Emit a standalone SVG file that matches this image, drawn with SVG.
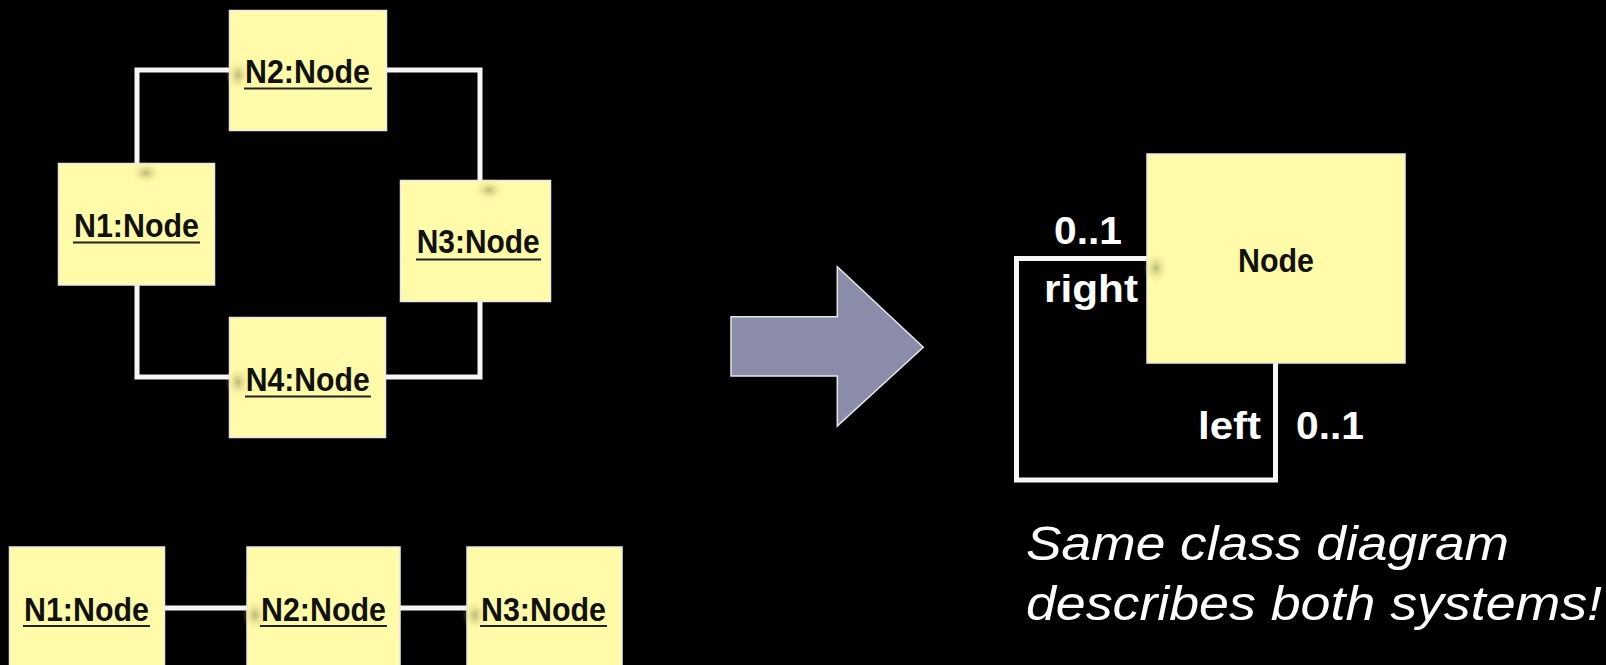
<svg xmlns="http://www.w3.org/2000/svg" width="1606" height="665" viewBox="0 0 1606 665">
  <defs>
    <radialGradient id="glow">
      <stop offset="0" stop-color="#8c8c55" stop-opacity="0.6"/>
      <stop offset="0.5" stop-color="#c8c67e" stop-opacity="0.3"/>
      <stop offset="1" stop-color="#fefaa8" stop-opacity="0"/>
    </radialGradient>
    <style>
      .box { fill: #fffba8; stroke: #e8e8e8; stroke-width: 1.5; }
      .lbl { font-family: "Liberation Sans", Arial, sans-serif; font-weight: bold; font-size: 33px; fill: #111; }
      .ul { stroke: #222; stroke-width: 2; }
      .conn { fill: none; stroke: #f6f6f6; stroke-width: 5; }
      .wl { font-family: "Liberation Sans", Arial, sans-serif; font-weight: bold; font-size: 38px; fill: #ffffff; }
      .note { font-family: "Liberation Sans", Arial, sans-serif; font-style: italic; font-size: 48px; fill: #ffffff; }
      .gl { fill: url(#glow); }
    </style>
  </defs>
  <rect x="0" y="0" width="1606" height="665" fill="#000"/>

  <g id="connectors">
    <path class="conn" d="M137,163 V70 H229"/>
    <path class="conn" d="M387,70 H480 V180"/>
    <path class="conn" d="M480,302 V377 H385"/>
    <path class="conn" d="M229,377 H137 V285"/>
    <path class="conn" d="M164,608 H247"/>
    <path class="conn" d="M400,608 H467"/>
    <path class="conn" d="M1147,258.5 H1016.5 V480 H1275.5 V363"/>
  </g>

  <g id="ring-n2">
    <rect class="box" x="229.5" y="10.5" width="157" height="120"/>
    <ellipse class="gl" cx="238" cy="75" rx="13" ry="17"/>
    <text class="lbl" x="245" y="82.7" textLength="125" lengthAdjust="spacingAndGlyphs">N2:Node</text>
    <line class="ul" x1="244" y1="88.5" x2="372" y2="88.5"/>
  </g>
  <g id="ring-n1">
    <rect class="box" x="58.5" y="163.5" width="156" height="121.5"/>
    <ellipse class="gl" cx="146" cy="173" rx="16" ry="12"/>
    <text class="lbl" x="74" y="237.3" textLength="125" lengthAdjust="spacingAndGlyphs">N1:Node</text>
    <line class="ul" x1="73" y1="242.5" x2="200" y2="242.5"/>
  </g>
  <g id="ring-n3">
    <rect class="box" x="400.5" y="180.5" width="150" height="121"/>
    <ellipse class="gl" cx="489" cy="190" rx="16" ry="12"/>
    <text class="lbl" x="416.7" y="253.3" textLength="123" lengthAdjust="spacingAndGlyphs">N3:Node</text>
    <line class="ul" x1="416" y1="259.5" x2="541" y2="259.5"/>
  </g>
  <g id="ring-n4">
    <rect class="box" x="229.5" y="317.5" width="156" height="120"/>
    <ellipse class="gl" cx="238" cy="382" rx="13" ry="17"/>
    <text class="lbl" x="245.7" y="390.5" textLength="124" lengthAdjust="spacingAndGlyphs">N4:Node</text>
    <line class="ul" x1="245" y1="396.5" x2="371" y2="396.5"/>
  </g>

  <g id="chain-n1">
    <rect class="box" x="9.5" y="547" width="155" height="130"/>
    <text class="lbl" x="24" y="621" textLength="125" lengthAdjust="spacingAndGlyphs">N1:Node</text>
    <line class="ul" x1="23" y1="626" x2="150" y2="626"/>
  </g>
  <g id="chain-n2">
    <rect class="box" x="247" y="547" width="153" height="130"/>
    <ellipse class="gl" cx="255" cy="615" rx="13" ry="17"/>
    <text class="lbl" x="261" y="621" textLength="125" lengthAdjust="spacingAndGlyphs">N2:Node</text>
    <line class="ul" x1="260" y1="626" x2="387" y2="626"/>
  </g>
  <g id="chain-n3">
    <rect class="box" x="467" y="547" width="155" height="130"/>
    <ellipse class="gl" cx="475" cy="615" rx="13" ry="17"/>
    <text class="lbl" x="481" y="621" textLength="125" lengthAdjust="spacingAndGlyphs">N3:Node</text>
    <line class="ul" x1="480" y1="626" x2="607" y2="626"/>
  </g>

  <g id="arrow">
    <polygon points="731,316.7 837.3,316.7 837.3,266.7 923.3,347.3 837.3,426 837.3,376 731,376" fill="#8a8ca9" stroke="#e6e6e6" stroke-width="1.5"/>
  </g>

  <g id="class-node">
    <rect class="box" x="1147" y="154" width="258" height="209"/>
    <ellipse class="gl" cx="1156" cy="268" rx="13" ry="17"/>
    <text class="lbl" x="1276" y="271.7" font-size="35" text-anchor="middle" textLength="76" lengthAdjust="spacingAndGlyphs">Node</text>
  </g>

  <g id="labels">
    <text class="wl" x="1054" y="244" textLength="68" lengthAdjust="spacingAndGlyphs">0..1</text>
    <text class="wl" x="1044" y="301.7" textLength="94" lengthAdjust="spacingAndGlyphs">right</text>
    <text class="wl" x="1198" y="439.3" textLength="63" lengthAdjust="spacingAndGlyphs">left</text>
    <text class="wl" x="1296" y="439.3" textLength="68" lengthAdjust="spacingAndGlyphs">0..1</text>
  </g>

  <g id="note">
    <text class="note" x="1026" y="560" textLength="483" lengthAdjust="spacingAndGlyphs">Same class diagram</text>
    <text class="note" x="1026" y="620" textLength="576" lengthAdjust="spacingAndGlyphs">describes both systems!</text>
  </g>
</svg>
